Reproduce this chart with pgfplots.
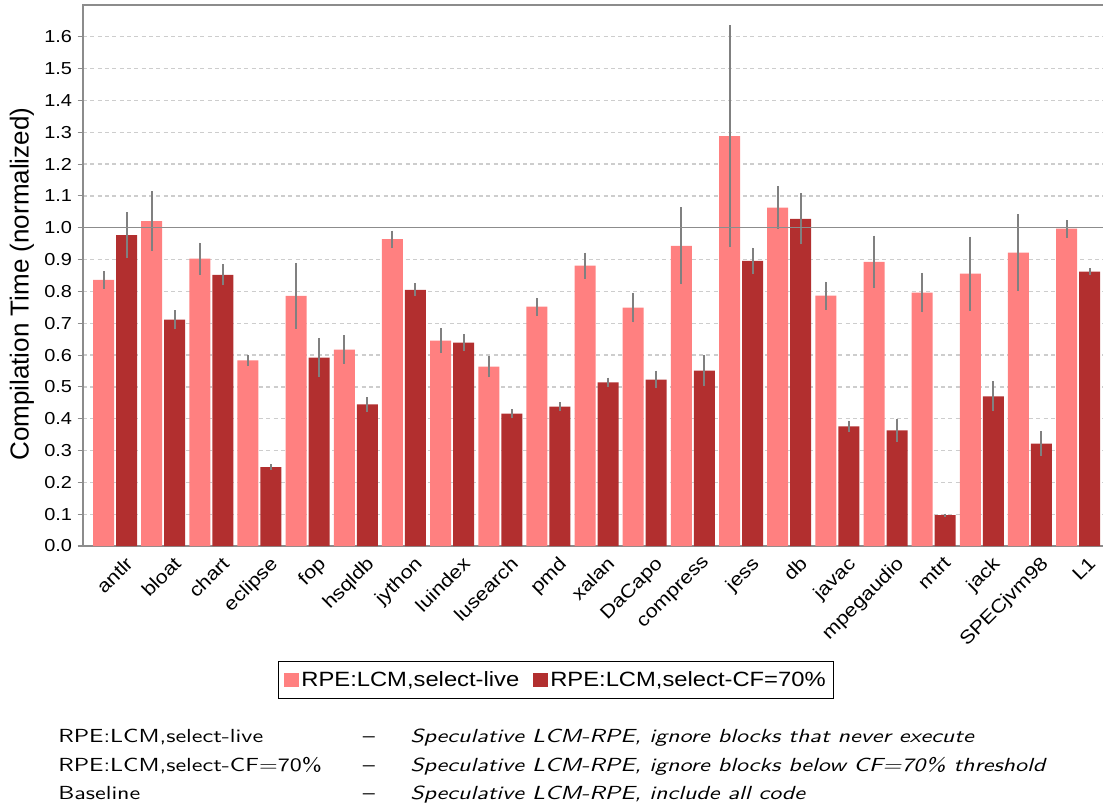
\documentclass[border=0pt]{standalone}
\usepackage{fontspec}
\setmainfont{Liberation Sans}[FakeStretch=1.15]
\newfontfamily\ylf{Liberation Sans}
\newfontfamily\lms{lmsans10-regular.otf}[ItalicFont=lmsans10-oblique.otf,FakeStretch=1.27,Ligatures=TeX]
\usepackage{pgfplots}
\usepackage{pgfplotstable}
\pgfplotsset{compat=1.18}
\definecolor{lightc}{RGB}{255,128,128}
\definecolor{darkc}{RGB}{178,47,47}
\definecolor{errc}{RGB}{128,128,128}
\definecolor{spinec}{RGB}{140,140,140}
\definecolor{gridc}{RGB}{205,205,205}

\pgfplotstableread{
x y e
0 0.836 0.027
1 1.021 0.094
2 0.903 0.050
3 0.583 0.018
4 0.786 0.104
5 0.617 0.045
6 0.964 0.027
7 0.645 0.039
8 0.564 0.033
9 0.752 0.028
10 0.881 0.041
11 0.749 0.046
12 0.943 0.121
13 1.288 0.348
14 1.063 0.067
15 0.787 0.044
16 0.893 0.082
17 0.796 0.062
18 0.856 0.116
19 0.922 0.121
20 0.997 0.028
}\livetab

\pgfplotstableread{
x y e
0 0.977 0.072
1 0.711 0.030
2 0.852 0.033
3 0.248 0.009
4 0.592 0.062
5 0.445 0.023
6 0.805 0.020
7 0.639 0.026
8 0.416 0.013
9 0.438 0.013
10 0.514 0.015
11 0.523 0.028
12 0.551 0.049
13 0.896 0.042
14 1.028 0.080
15 0.376 0.018
16 0.363 0.035
17 0.097 0.005
18 0.470 0.047
19 0.322 0.039
20 0.862 0.011
}\cftab

\begin{document}
\begin{tikzpicture}
\useasboundingbox (0pt,0pt) rectangle (827.25pt,-606pt);
\begin{axis}[
  at={(62.25pt,-409.5pt)}, anchor=south west,
  scale only axis,
  width=768.75pt, height=405.75pt,
  xmin=-0.665, xmax=20.62,
  ymin=0, ymax=1.7,
  ybar=1.5pt, bar width=15.75pt,
  axis line style={spinec, line width=1.2pt},
  xtick={0,...,20},
  xticklabels={antlr,bloat,chart,eclipse,fop,hsqldb,jython,luindex,lusearch,pmd,xalan,DaCapo,compress,jess,db,javac,mpegaudio,mtrt,jack,SPECjvm98,L1},
  xtick style={draw=none},
  xticklabel style={rotate=45, anchor=north east, inner sep=0pt, xshift=3pt, yshift=-7pt, font=\fontsize{14}{16}\selectfont},
  ytick={0,0.1,0.2,0.3,0.4,0.5,0.6,0.7,0.8,0.9,1.0,1.1,1.2,1.3,1.4,1.5,1.6},
  ytick pos=left,
  tick align=outside,
  major tick length=4pt,
  ytick style={spinec, line width=0.8pt},
  yticklabel style={font=\fontsize{13}{15}\selectfont, inner sep=0pt, xshift=-4pt},
  /pgf/number format/.cd, fixed, fixed zerofill, precision=1, assume math mode=true,
  /pgfplots/.cd,
  ymajorgrids,
  major grid style={gridc, line width=1pt, dash pattern=on 3pt off 2.5pt},
  ylabel={Compilation Time (normalized)},
  ylabel style={at={(axis description cs:-0.0595,0.484)}, anchor=center, rotate=0, font=\ylf\fontsize{19.5}{22}\selectfont},
  legend columns=2,
  legend style={at={(axis description cs:0.4615,-0.2477)}, anchor=center, draw=black, line width=1.1pt, font=\fontsize{15.5}{18}\selectfont, inner xsep=4pt, inner ysep=5.5pt, /tikz/every even column/.append style={column sep=8pt}},
  legend image code/.code={\fill[#1,draw=none] (0pt,-5.25pt) rectangle (11.25pt,5.25pt);},
]
\addplot[fill=lightc, draw=none,
  error bars/.cd, y dir=both, y explicit, error mark=none,
  error bar style={errc, line width=1.5pt, solid}]
  table[x=x, y=y, y error=e] {\livetab};
\addlegendentry{RPE:LCM,select-live}
\addplot[fill=darkc, draw=none,
  error bars/.cd, y dir=both, y explicit, error mark=none,
  error bar style={errc, line width=1.5pt, solid}]
  table[x=x, y=y, y error=e] {\cftab};
\addlegendentry{RPE:LCM,select-CF=70\%}
\draw[spinec, line width=1pt] (axis cs:-0.665,1) -- (axis cs:20.62,1);
\end{axis}
\begin{scope}[every node/.style={font=\lms\fontsize{14.2}{17}\selectfont, inner sep=0pt, anchor=base west}]
\node at (43.5pt,-556.5pt) {RPE:LCM,select-live};
\node at (43.5pt,-578.25pt) {RPE:LCM,select-CF=70\%};
\node at (43.5pt,-599.25pt) {Baseline};
\node at (272pt,-556.5pt) {–};
\node at (272pt,-578.25pt) {–};
\node at (272pt,-599.25pt) {–};
\node at (307.5pt,-556.5pt) {\itshape Speculative LCM-RPE, ignore blocks that never execute};
\node at (307.5pt,-578.25pt) {\itshape Speculative LCM-RPE, ignore blocks below CF=70\% threshold};
\node at (307.5pt,-599.25pt) {\itshape Speculative LCM-RPE, include all code};
\end{scope}
\end{tikzpicture}
\end{document}
